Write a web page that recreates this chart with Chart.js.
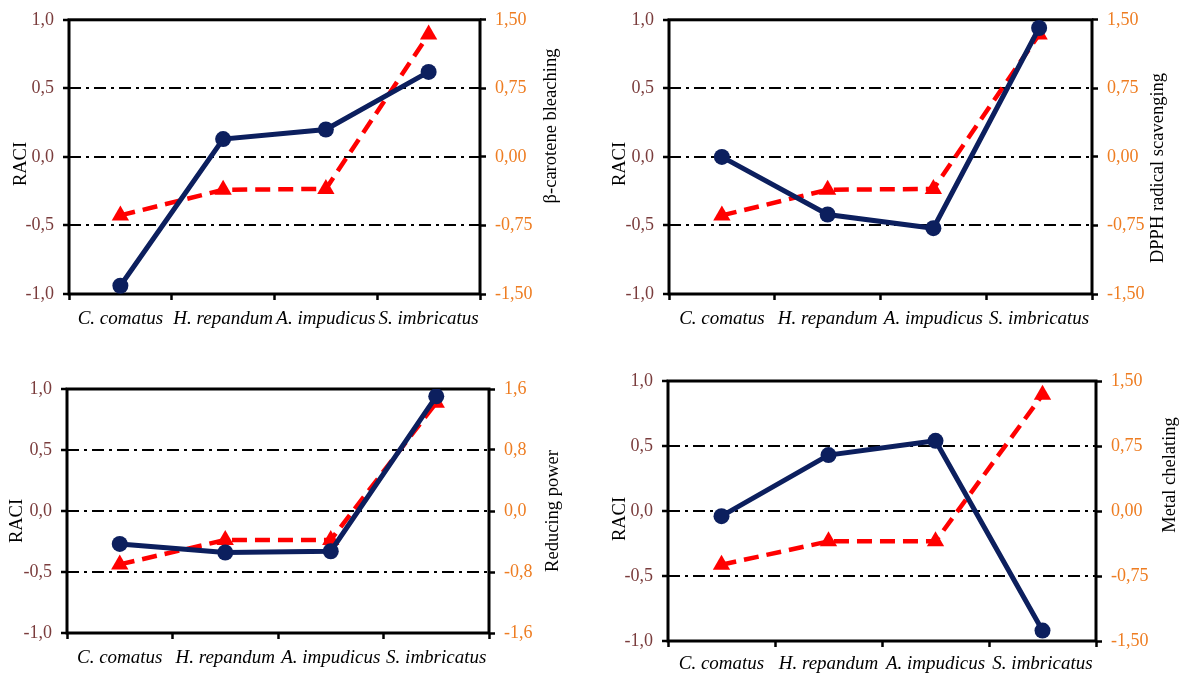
<!DOCTYPE html>
<html>
<head>
<meta charset="utf-8">
<script src="https://cdn.jsdelivr.net/npm/chart.js@4"></script>
<style>
  html, body { margin: 0; padding: 0; background: #fff; }
  #page { position: relative; width: 1186px; height: 673px; overflow: hidden; }
  canvas { position: absolute; }
</style>
</head>
<body>
<div id="page">
  <canvas id="chartBeta" style="left:0;top:0"></canvas>
  <canvas id="chartDpph" style="left:593px;top:0"></canvas>
  <canvas id="chartReducing" style="left:0;top:340px"></canvas>
  <canvas id="chartMetal" style="left:593px;top:340px"></canvas>
</div>
<script>
const categories = ['C. comatus', 'H. repandum', 'A. impudicus', 'S. imbricatus'];

// RACI values (left axis, solid navy line)
const raciBeta = [-0.94, 0.13, 0.20, 0.62];
const raciDpph = [0.00, -0.42, -0.52, 0.94];
const raciReducing = [-0.27, -0.34, -0.33, 0.94];
const raciMetal = [-0.04, 0.43, 0.54, -0.92];

// assay values (right axis, dashed red line)
const betaCarotene = [-0.64, -0.36, -0.35, 1.34];
const dpphScavenging = [-0.64, -0.36, -0.35, 1.34];
const reducingPower = [-0.70, -0.38, -0.38, 1.42];
const metalChelating = [-0.62, -0.35, -0.35, 1.34];

const raciTicks = { min: -1, max: 1, step: 0.5 };
const assayTicks = { min: -1.5, max: 1.5, step: 0.75 };
const reducingTicks = { min: -1.6, max: 1.6, step: 0.8 };

const FONT = '"Liberation Serif", "Times New Roman", serif';
const NAVY = '#0c1f5e';
const RED = '#ff0000';
const MAROON = '#7a3c3c';
const ORANGE = '#ee7d22';

// plot frame drawn under the lines
const framePlugin = {
  id: 'frame',
  beforeDatasetsDraw(chart) {
    const { ctx, chartArea: a } = chart;
    ctx.save();
    ctx.strokeStyle = '#000';
    ctx.lineWidth = 3;
    ctx.strokeRect(a.left, a.top, a.right - a.left, a.bottom - a.top);
    ctx.restore();
  }
};

// vertical axis titles, both reading bottom to top
const sideTitlesPlugin = {
  id: 'sideTitles',
  afterDraw(chart, args, opts) {
    const ctx = chart.ctx;
    (opts.items || []).forEach(t => {
      ctx.save();
      ctx.translate(t.x, t.y);
      ctx.rotate(-Math.PI / 2);
      ctx.font = '18.5px ' + FONT;
      ctx.fillStyle = '#000';
      ctx.textAlign = 'center';
      ctx.textBaseline = 'middle';
      ctx.fillText(t.text, 0, 0);
      ctx.restore();
    });
  }
};

function makeChart(id, opt) {
  const canvas = document.getElementById(id);
  canvas.width = opt.width;
  canvas.height = opt.height;
  canvas.style.width = opt.width + 'px';
  canvas.style.height = opt.height + 'px';

  const decimals = opt.rightDecimals;

  return new Chart(canvas, {
    type: 'line',
    data: {
      labels: categories,
      datasets: [
        {
          label: 'RACI',
          data: opt.raci,
          yAxisID: 'y',
          borderColor: NAVY,
          backgroundColor: NAVY,
          borderWidth: 5,
          pointStyle: 'circle',
          pointRadius: 8,
          pointBorderWidth: 0,
          tension: 0
        },
        {
          label: opt.rightTitle,
          data: opt.assay,
          yAxisID: 'y2',
          borderColor: RED,
          backgroundColor: RED,
          borderWidth: 4.5,
          borderDash: [15, 8],
          pointStyle: 'triangle',
          pointRadius: 10,
          pointBorderWidth: 0,
          tension: 0
        }
      ]
    },
    options: {
      responsive: false,
      animation: false,
      devicePixelRatio: 1,
      layout: { padding: { top: opt.top, left: 0, right: 0, bottom: 0 } },
      plugins: {
        legend: { display: false },
        tooltip: { enabled: false },
        sideTitles: { items: opt.titles }
      },
      scales: {
        x: {
          type: 'category',
          offset: true,
          grid: {
            offset: true,
            drawOnChartArea: false,
            drawTicks: true,
            tickLength: 6,
            tickColor: '#000',
            tickWidth: 2.5,
            tickBorderDash: []
          },
          border: { display: false },
          ticks: {
            color: '#000',
            font: { family: FONT, size: 19, style: 'italic' },
            padding: opt.xPad,
            maxRotation: 0,
            autoSkip: false
          },
          afterFit(scale) { scale.height = opt.xHeight; }
        },
        y: {
          position: 'left',
          min: raciTicks.min,
          max: raciTicks.max,
          grid: {
            color: c => Math.abs(c.tick.value) > 0.99 ? 'rgba(0,0,0,0)' : '#000',
            lineWidth: 2,
            drawTicks: true,
            tickLength: 6,
            tickColor: '#000',
            tickWidth: 2.5,
            tickBorderDash: []
          },
          border: { display: false, dash: [12, 5, 3, 5] },
          ticks: {
            stepSize: raciTicks.step,
            color: MAROON,
            font: { family: FONT, size: 18 },
            padding: 9,
            callback: v => v.toFixed(1).replace('-0.0', '0.0').replace('.', ',')
          },
          afterFit(scale) { scale.width = opt.leftWidth; }
        },
        y2: {
          position: 'right',
          min: opt.rightTicks.min,
          max: opt.rightTicks.max,
          grid: {
            drawOnChartArea: false,
            drawTicks: true,
            tickLength: 6,
            tickColor: '#000',
            tickWidth: 2.5,
            tickBorderDash: []
          },
          border: { display: false },
          ticks: {
            stepSize: opt.rightTicks.step,
            color: ORANGE,
            font: { family: FONT, size: 18 },
            padding: 9,
            callback: v => {
              const s = (Math.abs(v) < 1e-9 ? 0 : v).toFixed(decimals);
              return s.replace('.', ',');
            }
          },
          afterFit(scale) { scale.width = opt.rightWidth; }
        }
      }
    },
    plugins: [framePlugin, sideTitlesPlugin]
  });
}

makeChart('chartBeta', {
  width: 593, height: 340, top: 19, xHeight: 46, xPad: 8,
  leftWidth: 69, rightWidth: 113,
  raci: raciBeta, assay: betaCarotene,
  rightTicks: assayTicks, rightDecimals: 2,
  rightTitle: 'β-carotene bleaching',
  titles: [
    { text: 'RACI', x: 21, y: 164 },
    { text: 'β-carotene bleaching', x: 551, y: 126 }
  ]
});

makeChart('chartDpph', {
  width: 593, height: 340, top: 19, xHeight: 46, xPad: 8,
  leftWidth: 76, rightWidth: 94,
  raci: raciDpph, assay: dpphScavenging,
  rightTicks: assayTicks, rightDecimals: 2,
  rightTitle: 'DPPH radical scavenging',
  titles: [
    { text: 'RACI', x: 27, y: 164 },
    { text: 'DPPH radical scavenging', x: 565, y: 168 }
  ]
});

makeChart('chartReducing', {
  width: 593, height: 333, top: 49, xHeight: 40, xPad: 8,
  leftWidth: 67, rightWidth: 104,
  raci: raciReducing, assay: reducingPower,
  rightTicks: reducingTicks, rightDecimals: 1,
  rightTitle: 'Reducing power',
  titles: [
    { text: 'RACI', x: 17, y: 181 },
    { text: 'Reducing power', x: 553, y: 171 }
  ]
});

makeChart('chartMetal', {
  width: 593, height: 333, top: 41, xHeight: 32, xPad: 6,
  leftWidth: 75, rightWidth: 90,
  raci: raciMetal, assay: metalChelating,
  rightTicks: assayTicks, rightDecimals: 2,
  rightTitle: 'Metal chelating',
  titles: [
    { text: 'RACI', x: 27, y: 179 },
    { text: 'Metal chelating', x: 577, y: 135 }
  ]
});
</script>
</body>
</html>
